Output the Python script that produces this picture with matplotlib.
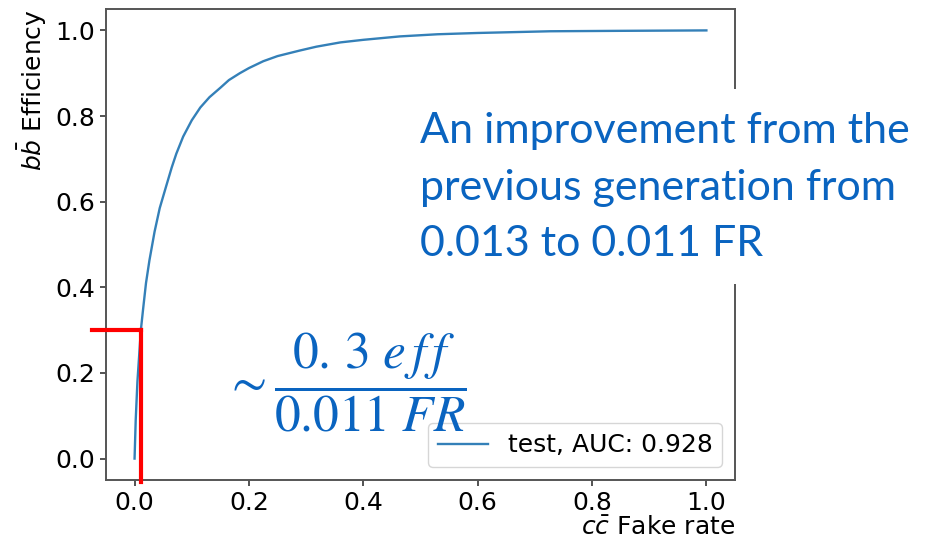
import matplotlib
matplotlib.use("Agg")
import matplotlib.pyplot as plt
from matplotlib.patches import Rectangle

fake_rate = [0.0, 0.002, 0.005, 0.009, 0.011, 0.015, 0.02, 0.026, 0.035, 0.044,
             0.055, 0.065, 0.073, 0.085, 0.1, 0.115, 0.131, 0.15, 0.165, 0.184,
             0.2, 0.225, 0.25, 0.289, 0.318, 0.36, 0.4, 0.464, 0.53, 0.6, 0.727,
             0.85, 1.0]
efficiency = [0.0, 0.09, 0.18, 0.26, 0.30, 0.35, 0.41, 0.463, 0.53, 0.585,
              0.635, 0.68, 0.712, 0.752, 0.79, 0.82, 0.844, 0.866, 0.884, 0.900,
              0.912, 0.928, 0.94, 0.953, 0.962, 0.972, 0.978, 0.986, 0.991, 0.994, 0.998,
              0.999, 1.0]
auc = 0.928

# working point marked in red
wp_fr = 0.011
wp_eff = 0.3

ticks = [0.0, 0.2, 0.4, 0.6, 0.8, 1.0]
BLUE = "#0a64c0"

fig = plt.figure(figsize=(9.37, 5.42), dpi=100)
ax = fig.add_axes([0.1131, 0.1144, 0.6713, 0.869])

ax.plot(fake_rate, efficiency, color="#3480b8", lw=1.7, label=f"test, AUC: {auc}")
ax.set_xlim(-0.05, 1.05)
ax.set_ylim(-0.05, 1.05)
ax.set_xticks(ticks)
ax.set_yticks(ticks)
ax.tick_params(labelsize=18, length=4.5, width=1.3, color="#444")
for s in ax.spines.values():
    s.set_linewidth(1.4)
    s.set_color("#555")

ax.set_xlabel(r"$c\bar{c}$ Fake rate", fontsize=18, loc="right", labelpad=1,
              math_fontfamily="dejavusans")
ax.set_ylabel(r"$b\bar{b}$ Efficiency", fontsize=18, loc="top", labelpad=4,
              math_fontfamily="dejavusans")

ax.legend(loc="lower right", fontsize=18, handlelength=2.0, borderpad=0.4)

# red guide lines at the working point
ax.plot([-0.074, wp_fr], [wp_eff, wp_eff], color="red", lw=3, clip_on=False, zorder=5)
ax.plot([wp_fr, wp_fr], [wp_eff, -0.055], color="red", lw=3, clip_on=False, zorder=5)

# white panel behind the note, hiding part of the right spine
fig.patches.append(Rectangle((0.44, 1 - 284 / 542), 0.56, 195 / 542,
                             transform=fig.transFigure, facecolor="white",
                             edgecolor="none", zorder=10))
fig.text(420 / 937, 1 - 112 / 542,
         "An improvement from the\nprevious generation from\n0.013 to 0.011 FR",
         fontsize=31, color=BLUE, family="Lato", ha="left", va="top",
         linespacing=1.6, zorder=11)

fig.text(224 / 937, 1 - 382 / 542, r"$\sim\dfrac{0.\,3\ e\,f\,f}{0.011\ FR}$",
         fontsize=37, color=BLUE, ha="left", va="center", zorder=11,
         math_fontfamily="stix")

fig.savefig("out.png", dpi=100)
